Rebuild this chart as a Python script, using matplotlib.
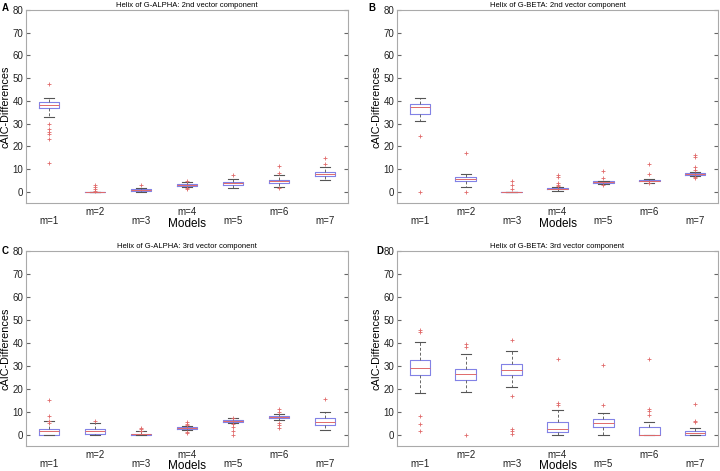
import matplotlib
matplotlib.use("Agg")
import matplotlib.pyplot as plt

plt.rcParams['font.family'] = ['Liberation Sans', 'DejaVu Sans']

models = ["m=1", "m=2", "m=3", "m=4", "m=5", "m=6", "m=7"]

# A: Helix of G-ALPHA, 2nd vector component
a_q1 = [36.8, 0, 0.3, 2.6, 2.9, 3.8, 7.0]
a_med = [38.2, 0, 0.8, 3.0, 3.6, 4.6, 7.7]
a_q3 = [39.4, 0, 1.3, 3.4, 4.2, 5.3, 8.7]
a_lo = [32.8, 0, 0.0, 2.0, 1.6, 2.0, 5.1]
a_hi = [41.2, 0, 1.7, 4.2, 5.5, 7.2, 10.8]
a_fl = [[47.4, 29.8, 27.6, 26.4, 25.4, 23.4, 12.6], [0.5, 1.0, 2.0, 3.0], [2.8],
        [1.2, 1.8, 4.5], [7.3], [1.5, 8.2, 11.1], [12.3, 14.9]]

# B: Helix of G-BETA, 2nd vector component
b_q1 = [34.3, 4.7, 0, 1.0, 3.8, 4.5, 7.3]
b_med = [37.1, 5.7, 0, 1.3, 4.1, 4.8, 7.8]
b_q3 = [38.4, 6.5, 0, 1.7, 4.5, 5.2, 8.3]
b_lo = [31.1, 2.2, 0, 0.2, 3.3, 3.8, 6.8]
b_hi = [41.3, 7.9, 0, 2.0, 4.8, 5.5, 8.8]
b_fl = [[24.4, 0.0], [17.0, 0.0], [4.5, 2.8, 1.2], [7.5, 6.5, 4.0, 3.0, 2.5],
        [9.0, 5.8, 2.8], [12.0, 7.8, 3.6], [16.2, 15.4, 10.8, 9.5, 6.5, 6.2]]

# C: Helix of G-ALPHA, 3rd vector component
c_q1 = [0.0, 0.3, 0.0, 2.3, 5.6, 7.2, 4.2]
c_med = [1.6, 1.4, 0.2, 2.8, 6.0, 7.6, 5.6]
c_q3 = [2.6, 2.5, 0.4, 3.2, 6.3, 8.0, 7.2]
c_lo = [0.0, 0.0, 0.0, 1.8, 5.0, 6.3, 2.0]
c_hi = [5.9, 5.2, 1.5, 3.8, 7.3, 9.0, 9.8]
c_fl = [[15.0, 8.1, 5.9, 5.0], [6.0], [2.7, 2.2, 1.6], [5.5, 4.8, 4.2, 1.2, 0.8],
        [7.3, 4.5, 3.5, 1.5, 0.0], [11.0, 10.0, 5.0, 4.0, 2.7], [15.3]]

# D: Helix of G-BETA, 3rd vector component
d_q1 = [25.8, 23.6, 25.8, 1.3, 3.5, 0.0, 0.0]
d_med = [28.8, 26.3, 28.3, 2.5, 5.0, 0.0, 0.7]
d_q3 = [32.3, 28.6, 30.9, 5.4, 6.7, 3.1, 1.6]
d_lo = [18.2, 18.7, 20.9, 0.0, 0.0, 0.0, 0.0]
d_hi = [40.3, 35.0, 36.4, 10.8, 9.2, 5.3, 2.8]
d_fl = [[45.5, 44.8, 7.9, 4.4, 1.6], [39.6, 38.0, 0.0], [41.2, 16.9, 2.2, 1.5, 0.3],
        [33.0, 13.6, 13.0], [30.4, 12.7], [33.0, 11.2, 10.4, 8.6], [13.4, 6.1, 5.4]]

panels = [
    ("A", "Helix of G-ALPHA: 2nd vector component", a_q1, a_med, a_q3, a_lo, a_hi, a_fl),
    ("B", "Helix of G-BETA: 2nd vector component", b_q1, b_med, b_q3, b_lo, b_hi, b_fl),
    ("C", "Helix of G-ALPHA: 3rd vector component", c_q1, c_med, c_q3, c_lo, c_hi, c_fl),
    ("D", "Helix of G-BETA: 3rd vector component", d_q1, d_med, d_q3, d_lo, d_hi, d_fl),
]

rects = [
    [26 / 720, 1 - 203 / 471, 322 / 720, 193 / 471],
    [397 / 720, 1 - 203 / 471, 321 / 720, 193 / 471],
    [26 / 720, 1 - 446 / 471, 322 / 720, 195 / 471],
    [397 / 720, 1 - 446 / 471, 321 / 720, 195 / 471],
]
letter_pos = [(2, 8), (368, 8), (2, 251), (376, 251)]
xlabel_y = [-0.08, -0.08, -0.07, -0.07]

fig = plt.figure(figsize=(7.2, 4.71), dpi=100)

for (letter, title, q1, med, q3, lo, hi, fl), rect, lp, xy in zip(panels, rects, letter_pos, xlabel_y):
    ax = fig.add_axes(rect)
    stats = []
    for i in range(len(models)):
        stats.append(dict(q1=q1[i], med=med[i], q3=q3[i], whislo=lo[i], whishi=hi[i],
                          fliers=fl[i], label=models[i]))
    ax.bxp(stats, positions=range(1, 8), widths=0.45, showfliers=True,
           boxprops=dict(color="#8282e6", linewidth=0.8),
           medianprops=dict(color="#e06a6a", linewidth=0.7),
           whiskerprops=dict(color="#666666", linewidth=0.7, linestyle=(0, (3, 2))),
           capprops=dict(color="#555555", linewidth=0.8),
           flierprops=dict(marker="+", markeredgecolor="#e06a6a", markersize=2.5,
                           markeredgewidth=0.6, linestyle="none"))
    ax.set_xlim(0.5, 7.5)
    ax.set_ylim(-5, 80)
    ax.set_yticks(range(0, 81, 10))
    ax.set_xticks(range(1, 8))
    ax.set_xticklabels(models)
    ax.tick_params(axis="x", length=0, labelsize=7, colors="#222222")
    ax.tick_params(axis="y", direction="in", length=3, labelsize=7, right=True,
                   color="#666666", labelcolor="#222222", pad=2)
    for j, tick in enumerate(ax.xaxis.get_major_ticks()):
        tick.set_pad(9.5 if j % 2 == 0 else 3)
    for s in ax.spines.values():
        s.set_color("#aaaaaa")
        s.set_linewidth(0.8)
    ax.set_title(title, fontsize=5.5, pad=2)
    ax.set_xlabel("Models", fontsize=8.5)
    ax.xaxis.set_label_coords(0.5, xy)
    ax.set_ylabel("cAIC-Differences", fontsize=7.8, labelpad=1)
    fig.text(lp[0] / 720, 1 - lp[1] / 471, letter, fontsize=7, fontweight="bold",
             ha="left", va="center")

fig.savefig("out.png", dpi=100)
